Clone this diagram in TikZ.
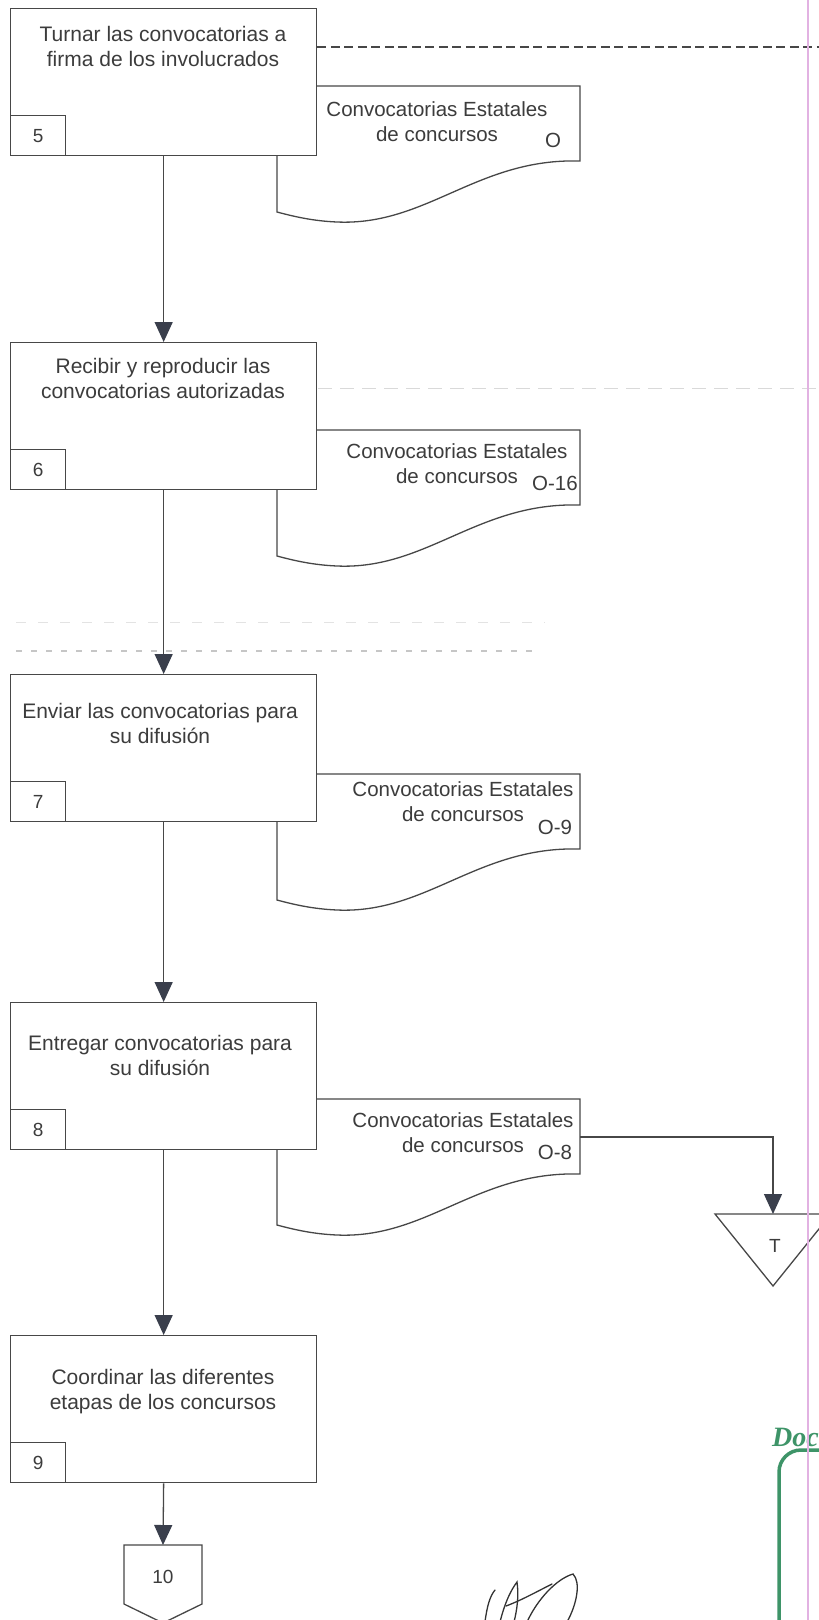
\documentclass[tikz,border=0pt]{standalone}
\usepackage{fontspec}
\setmainfont{Liberation Sans}
\newfontfamily\stampfont{Liberation Serif}
\usetikzlibrary{arrows.meta}
\definecolor{ink}{HTML}{3C3C3C}
\definecolor{linec}{HTML}{474747}
\definecolor{tipc}{HTML}{3A3F4C}
\definecolor{pinkline}{HTML}{E2B2E2}
\definecolor{stampgreen}{HTML}{3E9468}

\begin{document}
\begin{tikzpicture}[x=1pt,y=-1pt,
  procbox/.style={draw=linec, line width=1.3pt, fill=white, minimum width=306pt,
    minimum height=147pt, inner sep=0pt, anchor=north west},
  numbox/.style={draw=linec, line width=1.3pt, fill=white, minimum width=55pt,
    minimum height=40pt, inner sep=0pt, anchor=south west,
    font=\fontsize{19}{22}\selectfont, text=ink},
  boxtext/.style={align=center, font=\fontsize{21}{25}\selectfont, text=ink, inner sep=0pt},
  doctext/.style={align=center, font=\fontsize{20.5}{25}\selectfont, text=ink, inner sep=0pt},
  docline/.style={draw=linec, line width=1.3pt, fill=white},
  flow/.style={draw=linec, line width=1.3pt,
    -{Triangle[width=18pt,length=20pt,color=tipc,fill=tipc]}},
  scanline/.style={line width=1pt},
  sig/.style={draw=black!80, line width=1.3pt, line cap=round},
  docshape/.pic={
    \path[docline] (0,0) -- (303,0) -- (303,75)
      .. controls (200,72) and (150,140) .. (60,136)
      .. controls (35,135) and (15,130) .. (0,126) -- cycle;
  }
]
\useasboundingbox (0,0) rectangle (819,1620);

% faint guide lines
\draw[scanline, gray!30, dash pattern=on 14pt off 8pt] (318,388) -- (819,388);
\draw[scanline, gray!22, dash pattern=on 10pt off 12pt] (16,622) -- (545,622);
\draw[scanline, gray!45, line width=1.3pt, dash pattern=on 6pt off 9pt] (16,651) -- (540,651);

% documents behind the process boxes
\pic at (277,86) {docshape};
\pic at (277,430) {docshape};
\pic at (277,774) {docshape};
\pic at (277,1099) {docshape};

% process boxes
\node[procbox] (b5) at (10,8) {};
\node[procbox] (b6) at (10,342) {};
\node[procbox] (b7) at (10,674) {};
\node[procbox] (b8) at (10,1002) {};
\node[procbox] (b9) at (10,1335) {};

\node[numbox] (n5) at (b5.south west) {5};
\node[numbox] (n6) at (b6.south west) {6};
\node[numbox] (n7) at (b7.south west) {7};
\node[numbox] (n8) at (b8.south west) {8};
\node[numbox] (n9) at (b9.south west) {9};

\node[boxtext] (t5) at (163,46.5) {Turnar las convocatorias a\\firma de los involucrados};
\node[boxtext] (t6) at (163,378.5) {Recibir y reproducir las\\convocatorias autorizadas};
\node[boxtext] (t7) at (160,723.5) {Enviar las convocatorias para\\su difusión};
\node[boxtext] (t8) at (160,1055.5) {Entregar convocatorias para\\su difusión};
\node[boxtext] (t9) at (163,1392) {Coordinar las diferentes\\etapas de los concursos};

% document texts
\node[doctext] (d5t) at (437,121.5) {Convocatorias Estatales\\de concursos};
\node[doctext] (d5c) at (553,140) {O};
\node[doctext] (d6t) at (457,464) {Convocatorias Estatales\\de concursos};
\node[doctext] (d6c) at (555,483) {O-16};
\node[doctext] (d7t) at (463,802) {Convocatorias Estatales\\de concursos};
\node[doctext] (d7c) at (555,827) {O-9};
\node[doctext] (d8t) at (463,1133) {Convocatorias Estatales\\de concursos};
\node[doctext] (d8c) at (555,1152) {O-8};

% dashed link to the right
\coordinate (dashEnd) at (822,47);
\draw[draw=linec, line width=1.5pt, dash pattern=on 9pt off 4.5pt] (dashEnd -| b5.east) -- (dashEnd);

% temporary file
\coordinate (tTop) at (773,1214);
\path[docline] (715,1214) -- (831,1214) -- (773,1286) -- cycle;
\node[boxtext, font=\fontsize{19}{22}\selectfont] (tT) at (775,1246) {T};

% off-page connector
\coordinate (c10top) at (163,1545);
\path[docline] (124,1545) -- (202,1545) -- (202,1604) -- (163,1623) -- (124,1604) -- cycle;
\node[boxtext, font=\fontsize{19}{22}\selectfont] (c10) at (163,1577) {10};

% flow connectors
\draw[flow] (b5.south) -- (b6.north);
\draw[flow] (b6.south) -- (b7.north);
\draw[flow] (b7.south) -- (b8.north);
\draw[flow] (b8.south) -- (b9.north);
\draw[flow] (b9.south) -- (c10top);
\coordinate (d8out) at (580,1137);
\draw[flow] (d8out) -| (tTop);

% signature
\draw[sig] (485,1622) .. controls (487,1606) and (490,1596) .. (495,1590);
\draw[sig] (500,1622) .. controls (505,1602) and (511,1590) .. (517,1582)
  .. controls (519,1596) and (517,1610) .. (514,1622);
\draw[sig] (506,1606) .. controls (522,1600) and (538,1591) .. (552,1584);
\draw[sig] (527,1622) .. controls (537,1600) and (556,1579) .. (573,1574)
  .. controls (581,1582) and (577,1604) .. (567,1622);

% stamp in the corner
\node[font=\stampfont\fontsize{28}{28}\selectfont\bfseries\itshape, text=stampgreen,
  anchor=base west, inner sep=0pt] (stampword) at (772,1446) {Doc};
\draw[stampgreen, line width=3.5pt, rounded corners=22pt] (779,1640) -- (779,1450) -- (850,1450);

% page margin line
\draw[pinkline, line width=1.2pt] (808,-2) -- (808,1622);
\end{tikzpicture}
\end{document}
